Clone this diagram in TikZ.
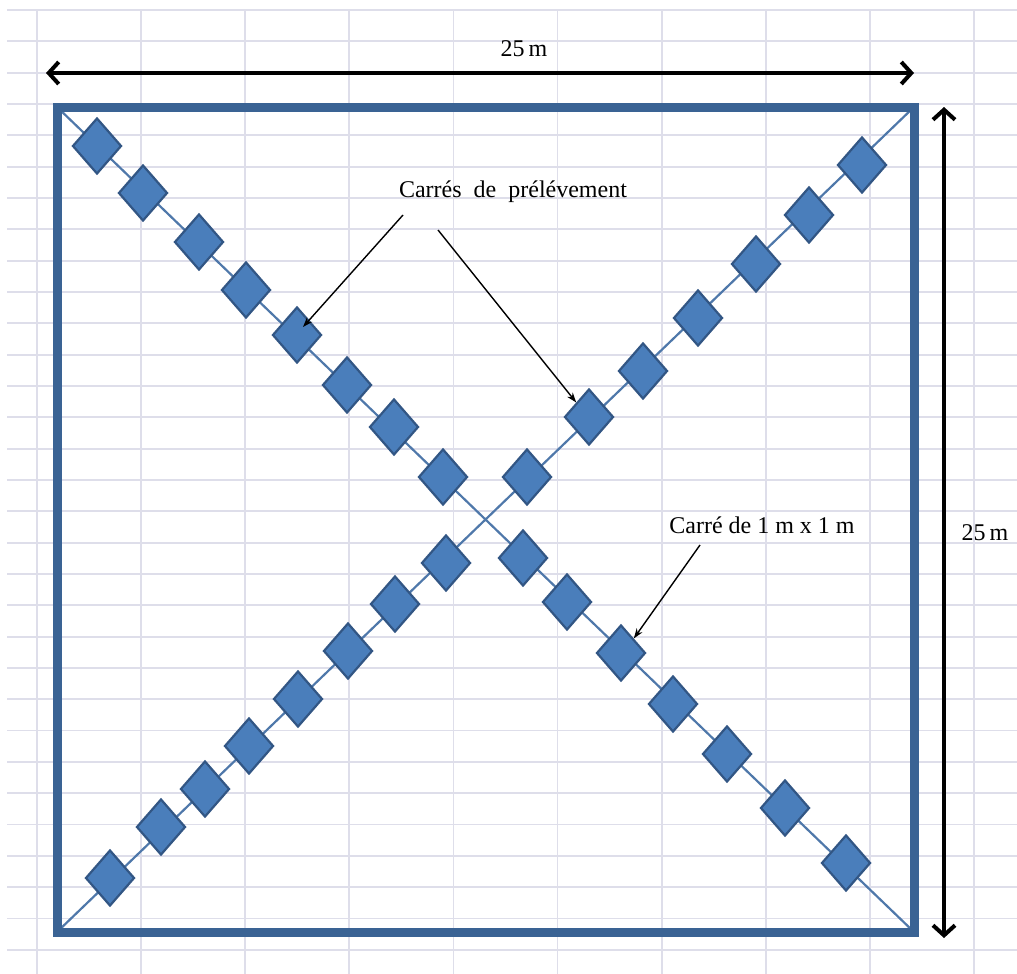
\documentclass[tikz,border=0pt]{standalone}
\usepackage{fontspec}
\setmainfont{Liberation Serif}
\usetikzlibrary{shapes.geometric,arrows.meta,calc}
\definecolor{gridc}{RGB}{222,222,234}
\definecolor{boxc}{RGB}{58,99,148}
\definecolor{diagc}{RGB}{79,120,170}
\definecolor{dfill}{RGB}{74,126,187}
\definecolor{dline}{RGB}{50,86,132}
\tikzset{
  gridline/.style={gridc, line width=1.8pt},
  plotbox/.style={boxc, line width=9pt, line join=miter},
  diagline/.style={diagc, line width=2.2pt},
  sample/.style={diamond, draw=dline, fill=dfill, line width=2.2pt, minimum width=49pt, minimum height=56pt, inner sep=0pt},
  dimarrow/.style={black, line width=4pt, {Straight Barb[length=10pt,width=22pt]}-{Straight Barb[length=10pt,width=22pt]}},
  callout/.style={black, line width=1.4pt, -{Stealth[length=10pt,width=7pt]}},
  lbl/.style={font=\fontsize{24}{28}\selectfont, inner sep=0pt}
}
\begin{document}
\begin{tikzpicture}[x=1pt,y=-1pt]
\useasboundingbox (0,0) rectangle (1017,974);
% grid
\foreach \k in {0,...,30} {
  \draw[gridline] (7,{10+31.33*\k}) -- (1017,{10+31.33*\k});
}
\foreach \k in {0,...,9} {
  \draw[gridline] ({37+104.1*\k},10) -- ({37+104.1*\k},974);
}
% corners
\coordinate (tl) at (57,107);
\coordinate (tr) at (914,107);
\coordinate (bl) at (57,932);
\coordinate (br) at (914,932);
% diagonals
\draw[diagline] (tl) -- (br);
\draw[diagline] (bl) -- (tr);
% outer square
\draw[plotbox] (tl) rectangle (br);
% samples on the TL-BR diagonal
\foreach \n/\x/\y in {1/97/146,2/143/193,3/199/242,4/246/290,5/297/335,6/347/385,7/394/427,8/443/477,9/523/558,10/567/602,11/621/653,12/673/704,13/727/754,14/785/808,15/846/863} {
  \node[sample] (a\n) at (\x,\y) {};
}
% samples on the BL-TR diagonal
\foreach \n/\x/\y in {1/110/878,2/161/827,3/205/789,4/249/746,5/298/699,6/348/651,7/395/604,8/446/563,9/527/477,10/589/417,11/643/371,12/698/318,13/756/264,14/809/215,15/862/165} {
  \node[sample] (b\n) at (\x,\y) {};
}
% dimension arrows
\coordinate (hL) at (46,73);
\coordinate (hR) at (914,73);
\coordinate (vT) at (944,107);
\coordinate (vB) at (944,938);
\draw[dimarrow] (hL) -- (hR);
\draw[dimarrow] (vT) -- (vB);
\node[lbl] (wlbl) at (524,49) {25\,m};
\node[lbl] (hlbl) at (985,533) {25\,m};
% callouts
\node[lbl] (cp) at (513,192) {Carrés\hspace{0.5em}de\hspace{0.5em}prélévement};
\coordinate (cpL) at (403,215);
\coordinate (cpR) at (438,230);
\draw[callout] (cpL) -- ($(a5)+(6,-8)$);
\draw[callout] (cpR) -- (b10.north west);
\node[lbl] (cm) at (762,525) {Carré de 1 m x 1 m};
\coordinate (cmS) at (700,545);
\draw[callout] (cmS) -- (a11.north east);
\end{tikzpicture}
\end{document}
